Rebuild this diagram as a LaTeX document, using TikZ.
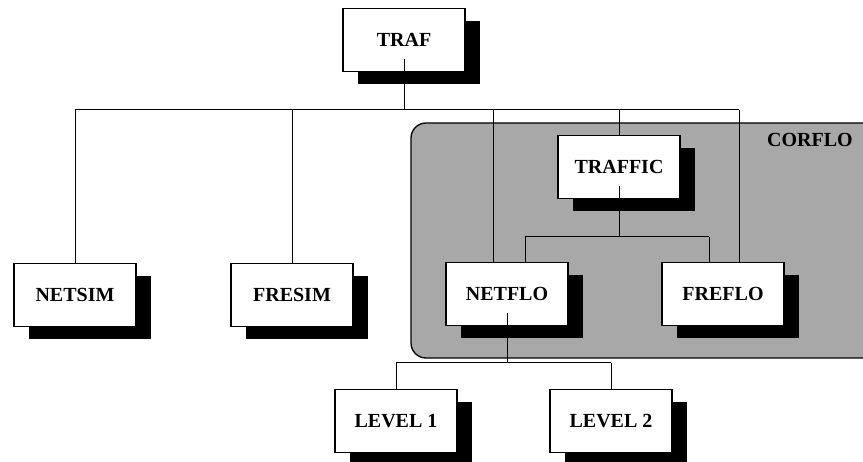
\documentclass[tikz,border=0pt]{standalone}
\usepackage{fontspec}
\setmainfont{Liberation Serif}
\usetikzlibrary{shadows}
\tikzset{
  modbox/.style={draw=black, line width=1.1pt, fill=white, minimum width=122pt, minimum height=63pt,
    inner sep=0pt, font=\fontsize{20}{23}\selectfont\bfseries,
    general shadow={fill=black, shadow xshift=15pt, shadow yshift=-13pt}},
  link/.style={draw=black, line width=1pt},
  region/.style={draw=black, line width=1.3pt, fill=black!34, rounded corners=15pt},
  regionlabel/.style={font=\fontsize{20}{23}\selectfont\bfseries}
}
\begin{document}
\begin{tikzpicture}[x=1pt,y=-1pt]
\useasboundingbox (0,0) rectangle (863,462);
% CORFLO region
\draw[region] (411,123) rectangle (885,358);
\node[regionlabel] (corflolabel) at (810,140) {CORFLO};
% boxes
\node[modbox] (traf) at (404,40) {TRAF};
\node[modbox] (traffic) at (619,167) {TRAFFIC};
\node[modbox] (netsim) at (75,295) {NETSIM};
\node[modbox] (fresim) at (292,295) {FRESIM};
\node[modbox] (netflo) at (507,294) {NETFLO};
\node[modbox] (freflo) at (723,294) {FREFLO};
\node[modbox] (level1) at (396,421) {LEVEL 1};
\node[modbox] (level2) at (611,421) {LEVEL 2};
% bus coordinates
\coordinate (bus) at (0,110);
\coordinate (bus2) at (0,237);
\coordinate (bus3) at (0,363);
\coordinate (nfin) at ([xshift=-14pt]netflo.north);
\coordinate (ffin) at ([xshift=16pt]freflo.north);
\coordinate (nfin2) at ([xshift=18pt]netflo.north);
\coordinate (ffin2) at ([xshift=-14pt]freflo.north);
% connectors
\draw[link] ([yshift=13pt]traf.south) -- (traf.south |- bus);
\draw[link] (netsim.north |- bus) -- (ffin |- bus);
\draw[link] (netsim.north) -- (netsim.north |- bus);
\draw[link] (fresim.north) -- (fresim.north |- bus);
\draw[link] (nfin) -- (nfin |- bus);
\draw[link] (traffic.north) -- (traffic.north |- bus);
\draw[link] (ffin) -- (ffin |- bus);
\draw[link] ([yshift=13pt]traffic.south) -- (traffic.south |- bus2);
\draw[link] (nfin2 |- bus2) -- (ffin2 |- bus2);
\draw[link] (nfin2) -- (nfin2 |- bus2);
\draw[link] (ffin2) -- (ffin2 |- bus2);
\draw[link] ([yshift=13pt]netflo.south) -- (netflo.south |- bus3);
\draw[link] (level1.north |- bus3) -- (level2.north |- bus3);
\draw[link] (level1.north) -- (level1.north |- bus3);
\draw[link] (level2.north) -- (level2.north |- bus3);
\end{tikzpicture}
\end{document}
